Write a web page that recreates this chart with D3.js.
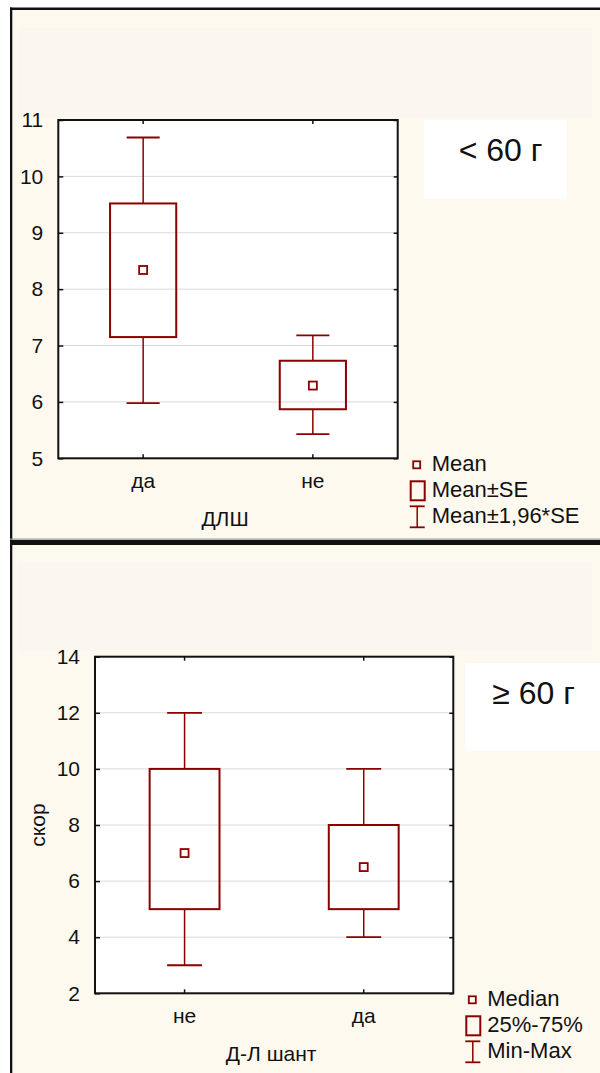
<!DOCTYPE html>
<html>
<head>
<meta charset="utf-8">
<script src="https://cdn.jsdelivr.net/npm/d3@7"></script>
<style>
  html, body { margin: 0; padding: 0; background: #ffffff; }
  svg { display: block; }
  text { font-family: "Liberation Sans", Arial, sans-serif; fill: #111; }
</style>
</head>
<body>
<svg id="chart" width="600" height="1073"></svg>
<script>
// Panel 1: < 60 g, mean with SE and 1.96*SE
const lt60Groups = ["да", "не"];
const lt60Mean = [8.34, 6.29];
const lt60SeLow = [7.15, 5.87];
const lt60SeHigh = [9.52, 6.73];
const lt60CiLow = [5.98, 5.43];
const lt60CiHigh = [10.69, 7.18];
const lt60Ticks = [5, 6, 7, 8, 9, 10, 11];
const lt60Legend = ["Mean", "Mean±SE", "Mean±1,96*SE"];

// Panel 2: >= 60 g, median with quartiles and range
const ge60Groups = ["не", "да"];
const ge60Median = [7, 6.5];
const ge60Q1 = [5, 5];
const ge60Q3 = [10, 8];
const ge60Min = [3, 4];
const ge60Max = [12, 10];
const ge60Ticks = [2, 4, 6, 8, 10, 12, 14];
const ge60Legend = ["Median", "25%-75%", "Min-Max"];

const RED = "#8b0000";
const CREAM = "#fdf9ef";
const STRIP = "#fbf6f0";
const FONT = "Liberation Sans, Arial, sans-serif";

const svg = d3.select("#chart");

function drawPanel(cfg) {
  const g = svg.append("g");

  // panel background and title strip
  g.append("rect").attr("x", 10).attr("y", cfg.top).attr("width", 600).attr("height", cfg.bottom - cfg.top).attr("fill", CREAM);
  g.append("rect").attr("x", 18).attr("y", cfg.stripTop).attr("width", 574).attr("height", cfg.stripH).attr("fill", STRIP);

  const x = d3.scaleBand().domain(cfg.groups).range([cfg.left, cfg.right]);
  const y = d3.scaleLinear().domain([cfg.ticks[0], cfg.ticks[cfg.ticks.length - 1]]).range([cfg.plotBottom, cfg.plotTop]);
  const cx = d => x(d) + x.bandwidth() / 2;
  const boxW = x.bandwidth() * 0.39;
  const capW = boxW * 0.5;

  // plot area
  g.append("rect").attr("x", cfg.left).attr("y", cfg.plotTop)
    .attr("width", cfg.right - cfg.left).attr("height", cfg.plotBottom - cfg.plotTop).attr("fill", "#fff");

  // gridlines
  g.append("g").selectAll("line").data(cfg.ticks.slice(1, -1)).join("line")
    .attr("x1", cfg.left).attr("x2", cfg.right)
    .attr("y1", d => y(d)).attr("y2", d => y(d))
    .attr("stroke", "#dadada").attr("stroke-width", 1);

  // axes (inward ticks on all sides)
  const yAxis = d3.axisLeft(y).tickValues(cfg.ticks).tickFormat(d3.format("d"))
    .tickSizeInner(-5).tickSizeOuter(0).tickPadding(15);
  const ya = g.append("g").attr("transform", `translate(${cfg.left},0)`).call(yAxis);
  ya.select(".domain").remove();
  ya.selectAll("line").attr("stroke", "#111").attr("stroke-width", 1.5);
  ya.selectAll("text").attr("font-size", 21).attr("font-family", FONT).attr("fill", "#111");

  const yR = d3.axisRight(y).tickValues(cfg.ticks).tickSizeInner(-4).tickSizeOuter(0).tickFormat("");
  const yr = g.append("g").attr("transform", `translate(${cfg.right},0)`).call(yR);
  yr.select(".domain").remove();
  yr.selectAll("line").attr("stroke", "#111").attr("stroke-width", 1.5);

  const xAxis = d3.axisBottom(x).tickSizeInner(-4).tickSizeOuter(0).tickPadding(15);
  const xa = g.append("g").attr("transform", `translate(0,${cfg.plotBottom})`).call(xAxis);
  xa.select(".domain").remove();
  xa.selectAll("line").attr("stroke", "#111").attr("stroke-width", 1.5);
  xa.selectAll("text").attr("font-size", 21).attr("font-family", FONT).attr("fill", "#111");

  const xT = d3.axisTop(x).tickSizeInner(-4).tickSizeOuter(0).tickFormat("");
  const xt = g.append("g").attr("transform", `translate(0,${cfg.plotTop})`).call(xT);
  xt.select(".domain").remove();
  xt.selectAll("line").attr("stroke", "#111").attr("stroke-width", 1.5);

  // frame
  g.append("rect").attr("x", cfg.left).attr("y", cfg.plotTop)
    .attr("width", cfg.right - cfg.left).attr("height", cfg.plotBottom - cfg.plotTop)
    .attr("fill", "none").attr("stroke", "#111").attr("stroke-width", 2);

  // whiskers, boxes and centre markers
  const marks = g.append("g");
  cfg.groups.forEach((grp, i) => {
    const c = cx(grp);
    marks.append("line").attr("x1", c).attr("x2", c).attr("y1", y(cfg.hi[i])).attr("y2", y(cfg.boxHi[i]))
      .attr("stroke", RED).attr("stroke-width", 1.5);
    marks.append("line").attr("x1", c).attr("x2", c).attr("y1", y(cfg.boxLo[i])).attr("y2", y(cfg.lo[i]))
      .attr("stroke", RED).attr("stroke-width", 1.5);
    [cfg.hi[i], cfg.lo[i]].forEach(v => {
      marks.append("line").attr("x1", c - capW / 2).attr("x2", c + capW / 2).attr("y1", y(v)).attr("y2", y(v))
        .attr("stroke", RED).attr("stroke-width", 1.8);
    });
    marks.append("rect").attr("x", c - boxW / 2).attr("y", y(cfg.boxHi[i]))
      .attr("width", boxW).attr("height", y(cfg.boxLo[i]) - y(cfg.boxHi[i]))
      .attr("fill", "none").attr("stroke", RED).attr("stroke-width", 2);
    marks.append("rect").attr("x", c - 4).attr("y", y(cfg.mid[i]) - 4).attr("width", 8).attr("height", 8)
      .attr("fill", "#fff").attr("stroke", RED).attr("stroke-width", 1.8);
  });

  // axis titles
  g.append("text").attr("x", (cfg.left + cfg.right) / 2 - 3).attr("y", cfg.plotBottom + 68)
    .attr("text-anchor", "middle").attr("font-size", 21).text(cfg.xTitle);
  if (cfg.yTitle) {
    g.append("text").attr("transform", `translate(${cfg.left - 50},${(cfg.plotTop + cfg.plotBottom) / 2}) rotate(-90)`)
      .attr("text-anchor", "middle").attr("font-size", 21).text(cfg.yTitle);
  }

  // group label box
  g.append("rect").attr("x", cfg.tagX).attr("y", cfg.tagY).attr("width", cfg.tagW).attr("height", cfg.tagH).attr("fill", "#fff");
  g.append("text").attr("x", cfg.tagX + cfg.tagW / 2 + cfg.tagDx).attr("y", cfg.tagY + cfg.tagBase)
    .attr("text-anchor", "middle").attr("font-size", 32).text(cfg.tag);

  // legend
  const lx = cfg.right + 12;
  const ly = cfg.plotBottom;
  const leg = g.append("g");
  leg.append("rect").attr("x", lx + 3.5).attr("y", ly + 3).attr("width", 7).attr("height", 7)
    .attr("fill", "#fff").attr("stroke", RED).attr("stroke-width", 1.8);
  leg.append("rect").attr("x", lx + 1).attr("y", ly + 23).attr("width", 14).attr("height", 19)
    .attr("fill", "none").attr("stroke", RED).attr("stroke-width", 2);
  leg.append("line").attr("x1", lx + 7.5).attr("x2", lx + 7.5).attr("y1", ly + 48).attr("y2", ly + 69)
    .attr("stroke", RED).attr("stroke-width", 1.5);
  [ly + 48, ly + 69].forEach(v => leg.append("line").attr("x1", lx).attr("x2", lx + 15).attr("y1", v).attr("y2", v)
    .attr("stroke", RED).attr("stroke-width", 1.8));
  cfg.legend.forEach((t, i) => {
    leg.append("text").attr("x", lx + 22).attr("y", ly + 13 + i * 26).attr("font-size", 22).text(t);
  });
}

drawPanel({
  top: 8, bottom: 543, stripTop: 28, stripH: 90,
  left: 58.3, right: 397.7, plotTop: 120, plotBottom: 458.3,
  groups: lt60Groups, ticks: lt60Ticks,
  mid: lt60Mean, boxLo: lt60SeLow, boxHi: lt60SeHigh, lo: lt60CiLow, hi: lt60CiHigh,
  xTitle: "ДЛШ", yTitle: null,
  tag: "< 60 г", tagX: 424, tagY: 120, tagW: 143, tagH: 79, tagDx: 5, tagBase: 41,
  legend: lt60Legend
});

drawPanel({
  top: 543, bottom: 1073, stripTop: 563, stripH: 88,
  left: 95, right: 453.3, plotTop: 656.7, plotBottom: 993.3,
  groups: ge60Groups, ticks: ge60Ticks,
  mid: ge60Median, boxLo: ge60Q1, boxHi: ge60Q3, lo: ge60Min, hi: ge60Max,
  xTitle: "Д-Л шант", yTitle: "скор",
  tag: "≥ 60 г", tagX: 465, tagY: 663, tagW: 135, tagH: 88, tagDx: 1, tagBase: 41,
  legend: ge60Legend
});

// panel borders
svg.append("rect").attr("x", 10).attr("y", 7.5).attr("width", 590).attr("height", 2.5).attr("fill", "#111");
svg.append("rect").attr("x", 10).attr("y", 7.5).attr("width", 2.3).attr("height", 1066).attr("fill", "#111");
svg.append("rect").attr("x", 10).attr("y", 538.5).attr("width", 590).attr("height", 1.2).attr("fill", "#999");
svg.append("rect").attr("x", 10).attr("y", 540).attr("width", 590).attr("height", 5).attr("fill", "#111");
</script>
</body>
</html>
